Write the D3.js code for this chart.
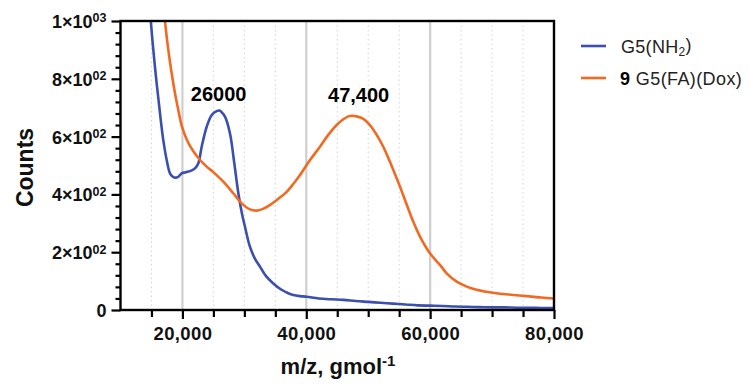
<!DOCTYPE html>
<html>
<head>
<meta charset="utf-8">
<script src="https://cdn.jsdelivr.net/npm/d3@7"></script>
<style>
  html, body { margin: 0; padding: 0; background: #fff; }
  svg { display: block; font-family: "Liberation Sans", Arial, Helvetica, sans-serif; }
</style>
</head>
<body>
<svg id="chart" width="750" height="388"></svg>
<script>
// Mass spectra: counts versus m/z for the two dendrimer samples
const seriesNames = ["G5(NH2)", "9 G5(FA)(Dox)"];
const seriesColors = ["#3b4fae", "#f26a22"];

// G5(NH2) trace: [m/z, counts]
const g5nh2 = [
  [14500, 1150], [14900, 1000], [15300, 900], [15840, 784], [16380, 680], [16910, 588],
  [17460, 519], [17990, 473], [18400, 462], [18800, 458], [19330, 461], [19880, 473],
  [20400, 476], [20950, 479], [21500, 483], [22030, 490], [22570, 508], [23110, 565],
  [23920, 634], [24730, 675], [25530, 688], [26000, 690], [26340, 684], [26870, 669],
  [27680, 611], [28300, 520], [29030, 404], [29600, 335], [30100, 288], [30900, 219],
  [31700, 178], [32520, 150], [33500, 117], [34670, 92], [36000, 70], [37000, 59],
  [37900, 52], [39000, 48], [40060, 46], [42000, 40], [44000, 37], [46000, 35],
  [48000, 31], [50000, 28], [52000, 25], [54000, 22], [56000, 19], [58000, 16],
  [60000, 15], [62000, 14], [64000, 12], [66000, 11], [68000, 10], [70000, 9],
  [72000, 9], [74000, 8], [76000, 8], [78000, 7], [80000, 7]
];

// 9 G5(FA)(Dox) trace: [m/z, counts]
const g5faDox = [
  [16800, 1150], [17190, 1000], [17720, 900], [18260, 819], [18800, 750], [19330, 692],
  [19880, 638], [20690, 590], [21760, 549], [22840, 519], [23920, 496], [24990, 477],
  [26600, 444], [28210, 404], [29570, 369], [30910, 348], [31990, 344], [33000, 350],
  [34100, 363], [35500, 385], [36840, 409], [37900, 436], [38980, 467], [40600, 519],
  [42210, 565], [43550, 606], [44900, 640], [45980, 660], [46800, 670], [47400, 672],
  [48140, 670], [49210, 661], [50280, 640], [51370, 606], [52430, 565], [53520, 512],
  [54400, 466], [55130, 427], [56210, 365], [57280, 305], [58360, 254], [59970, 196],
  [61590, 156], [62670, 127], [64290, 98], [65900, 81], [67500, 70], [69130, 63],
  [71000, 57], [73430, 52], [76000, 47], [78000, 43], [80000, 40]
];

// Peak annotations: [m/z, counts, label]
const peakLabels = [[26000, 690, "26000"], [47400, 672, "47,400"]];

const xMajorTicks = [20000, 40000, 60000, 80000];
const xTickLabels = ["20,000", "40,000", "60,000", "80,000"];
const yMajorTicks = [0, 200, 400, 600, 800, 1000];
const yTickMantissa = ["0", "2\u00d710", "4\u00d710", "6\u00d710", "8\u00d710", "1\u00d710"];
const yTickExponent = ["", "02", "02", "02", "02", "03"];

const svg = d3.select("#chart");
const plotLeft = 120.5, plotRight = 554, plotTop = 21, plotBottom = 310;

const x = d3.scaleLinear().domain([10000, 80000]).range([plotLeft, plotRight]);
const y = d3.scaleLinear().domain([0, 1000]).range([plotBottom, plotTop]);

// Grid: dotted every 5,000, solid at the labelled values
const minorX = d3.range(15000, 80000, 5000).filter(v => !xMajorTicks.includes(v));
svg.append("g").selectAll("line").data(minorX).join("line")
  .attr("x1", d => x(d)).attr("x2", d => x(d))
  .attr("y1", plotTop).attr("y2", plotBottom)
  .attr("stroke", "#d4d4d4").attr("stroke-width", 1).attr("stroke-dasharray", "1.5,3");
svg.append("g").selectAll("line").data(xMajorTicks.filter(v => v < 80000)).join("line")
  .attr("x1", d => x(d)).attr("x2", d => x(d))
  .attr("y1", plotTop).attr("y2", plotBottom)
  .attr("stroke", "#cfcfcf").attr("stroke-width", 2.2);

// Traces, clipped to the plot area
svg.append("clipPath").attr("id", "plotClip")
  .append("rect").attr("x", plotLeft).attr("y", plotTop)
  .attr("width", plotRight - plotLeft).attr("height", plotBottom - plotTop);

const line = d3.line().x(d => x(d[0])).y(d => y(d[1])).curve(d3.curveCatmullRom.alpha(0.5));
const traces = [g5nh2, g5faDox];
svg.append("g").attr("clip-path", "url(#plotClip)")
  .selectAll("path").data(traces).join("path")
  .attr("d", line)
  .attr("fill", "none")
  .attr("stroke", (d, i) => seriesColors[i])
  .attr("stroke-width", 2.6)
  .attr("stroke-linejoin", "round");

// X axis
const xAxis = svg.append("g").attr("transform", `translate(0,${plotBottom})`)
  .call(d3.axisBottom(x).tickValues(d3.range(15000, 80001, 5000)).tickSize(7).tickFormat(""));
xAxis.select(".domain").remove();
xAxis.selectAll(".tick line").attr("stroke", "#000").attr("stroke-width", 2.2)
  .attr("y2", d => xMajorTicks.includes(d) ? 9 : 7);
xAxis.selectAll(".tick").filter(d => xMajorTicks.includes(d)).append("text")
  .attr("y", 30).attr("text-anchor", "middle")
  .attr("fill", "#111").attr("font-size", 18.5).attr("font-weight", "bold")
  .attr("letter-spacing", 0.4)
  .text(d => xTickLabels[xMajorTicks.indexOf(d)]);

// Y axis: major ticks every 200, minor every 40
const yAxis = svg.append("g").attr("transform", `translate(${plotLeft},0)`)
  .call(d3.axisLeft(y).tickValues(d3.range(0, 1001, 40)).tickSize(5).tickFormat(""));
yAxis.select(".domain").remove();
yAxis.selectAll(".tick line").attr("stroke", "#000").attr("stroke-width", 2.2)
  .attr("x2", d => yMajorTicks.includes(d) ? -9 : -5);
yAxis.selectAll(".tick").filter(d => yMajorTicks.includes(d)).each(function (d) {
  const i = yMajorTicks.indexOf(d);
  const t = d3.select(this).append("text")
    .attr("x", -14).attr("dy", "0.36em").attr("text-anchor", "end")
    .attr("fill", "#111").attr("font-size", 18).attr("font-weight", "bold");
  t.append("tspan").text(yTickMantissa[i]);
  if (yTickExponent[i]) {
    t.append("tspan").attr("dy", "-0.45em").attr("font-size", 12.5).text(yTickExponent[i]);
  }
});

// Frame
svg.append("rect").attr("x", plotLeft).attr("y", plotTop)
  .attr("width", plotRight - plotLeft).attr("height", plotBottom - plotTop)
  .attr("fill", "none").attr("stroke", "#000").attr("stroke-width", 2.4);

// Axis titles
svg.append("text")
  .attr("transform", `translate(33,${(plotTop + plotBottom) / 2 + 2}) rotate(-90)`)
  .attr("text-anchor", "middle").attr("font-size", 23).attr("font-weight", "bold").attr("fill", "#111")
  .text("Counts");
const xt = svg.append("text").attr("x", 338).attr("y", 374)
  .attr("text-anchor", "middle").attr("font-size", 22).attr("font-weight", "bold").attr("fill", "#111");
xt.append("tspan").text("m/z, gmol");
xt.append("tspan").attr("dy", "-0.55em").attr("font-size", 15).text("-1");

// Peak labels, placed just above each peak
const labelOffset = [[-1, -9.5], [6.5, -14]];
svg.append("g").selectAll("text").data(peakLabels).join("text")
  .attr("x", (d, i) => x(d[0]) + labelOffset[i][0])
  .attr("y", (d, i) => y(d[1]) + labelOffset[i][1])
  .attr("text-anchor", "middle").attr("font-size", 20).attr("font-weight", "bold").attr("fill", "#000")
  .text(d => d[2]);

// Legend
const legend = svg.append("g");
const legendY = [46, 78];
legend.selectAll("line").data(seriesColors).join("line")
  .attr("x1", 581).attr("x2", 606)
  .attr("y1", (d, i) => legendY[i]).attr("y2", (d, i) => legendY[i])
  .attr("stroke", d => d).attr("stroke-width", 2.6);

const l1 = legend.append("text").attr("x", 621).attr("y", legendY[0] + 6.5)
  .attr("font-size", 18).attr("letter-spacing", 0.3).attr("fill", "#222");
l1.append("tspan").text("G5(NH");
l1.append("tspan").attr("dy", "0.3em").attr("font-size", 12).text("2");
l1.append("tspan").attr("dy", "-0.3em").text(")");

const l2 = legend.append("text").attr("x", 620).attr("y", legendY[1] + 6.5)
  .attr("font-size", 18).attr("letter-spacing", 0.4).attr("fill", "#222");
l2.append("tspan").attr("font-weight", "bold").attr("fill", "#000").text("9");
l2.append("tspan").text(" G5(FA)(Dox)");
</script>
</body>
</html>
